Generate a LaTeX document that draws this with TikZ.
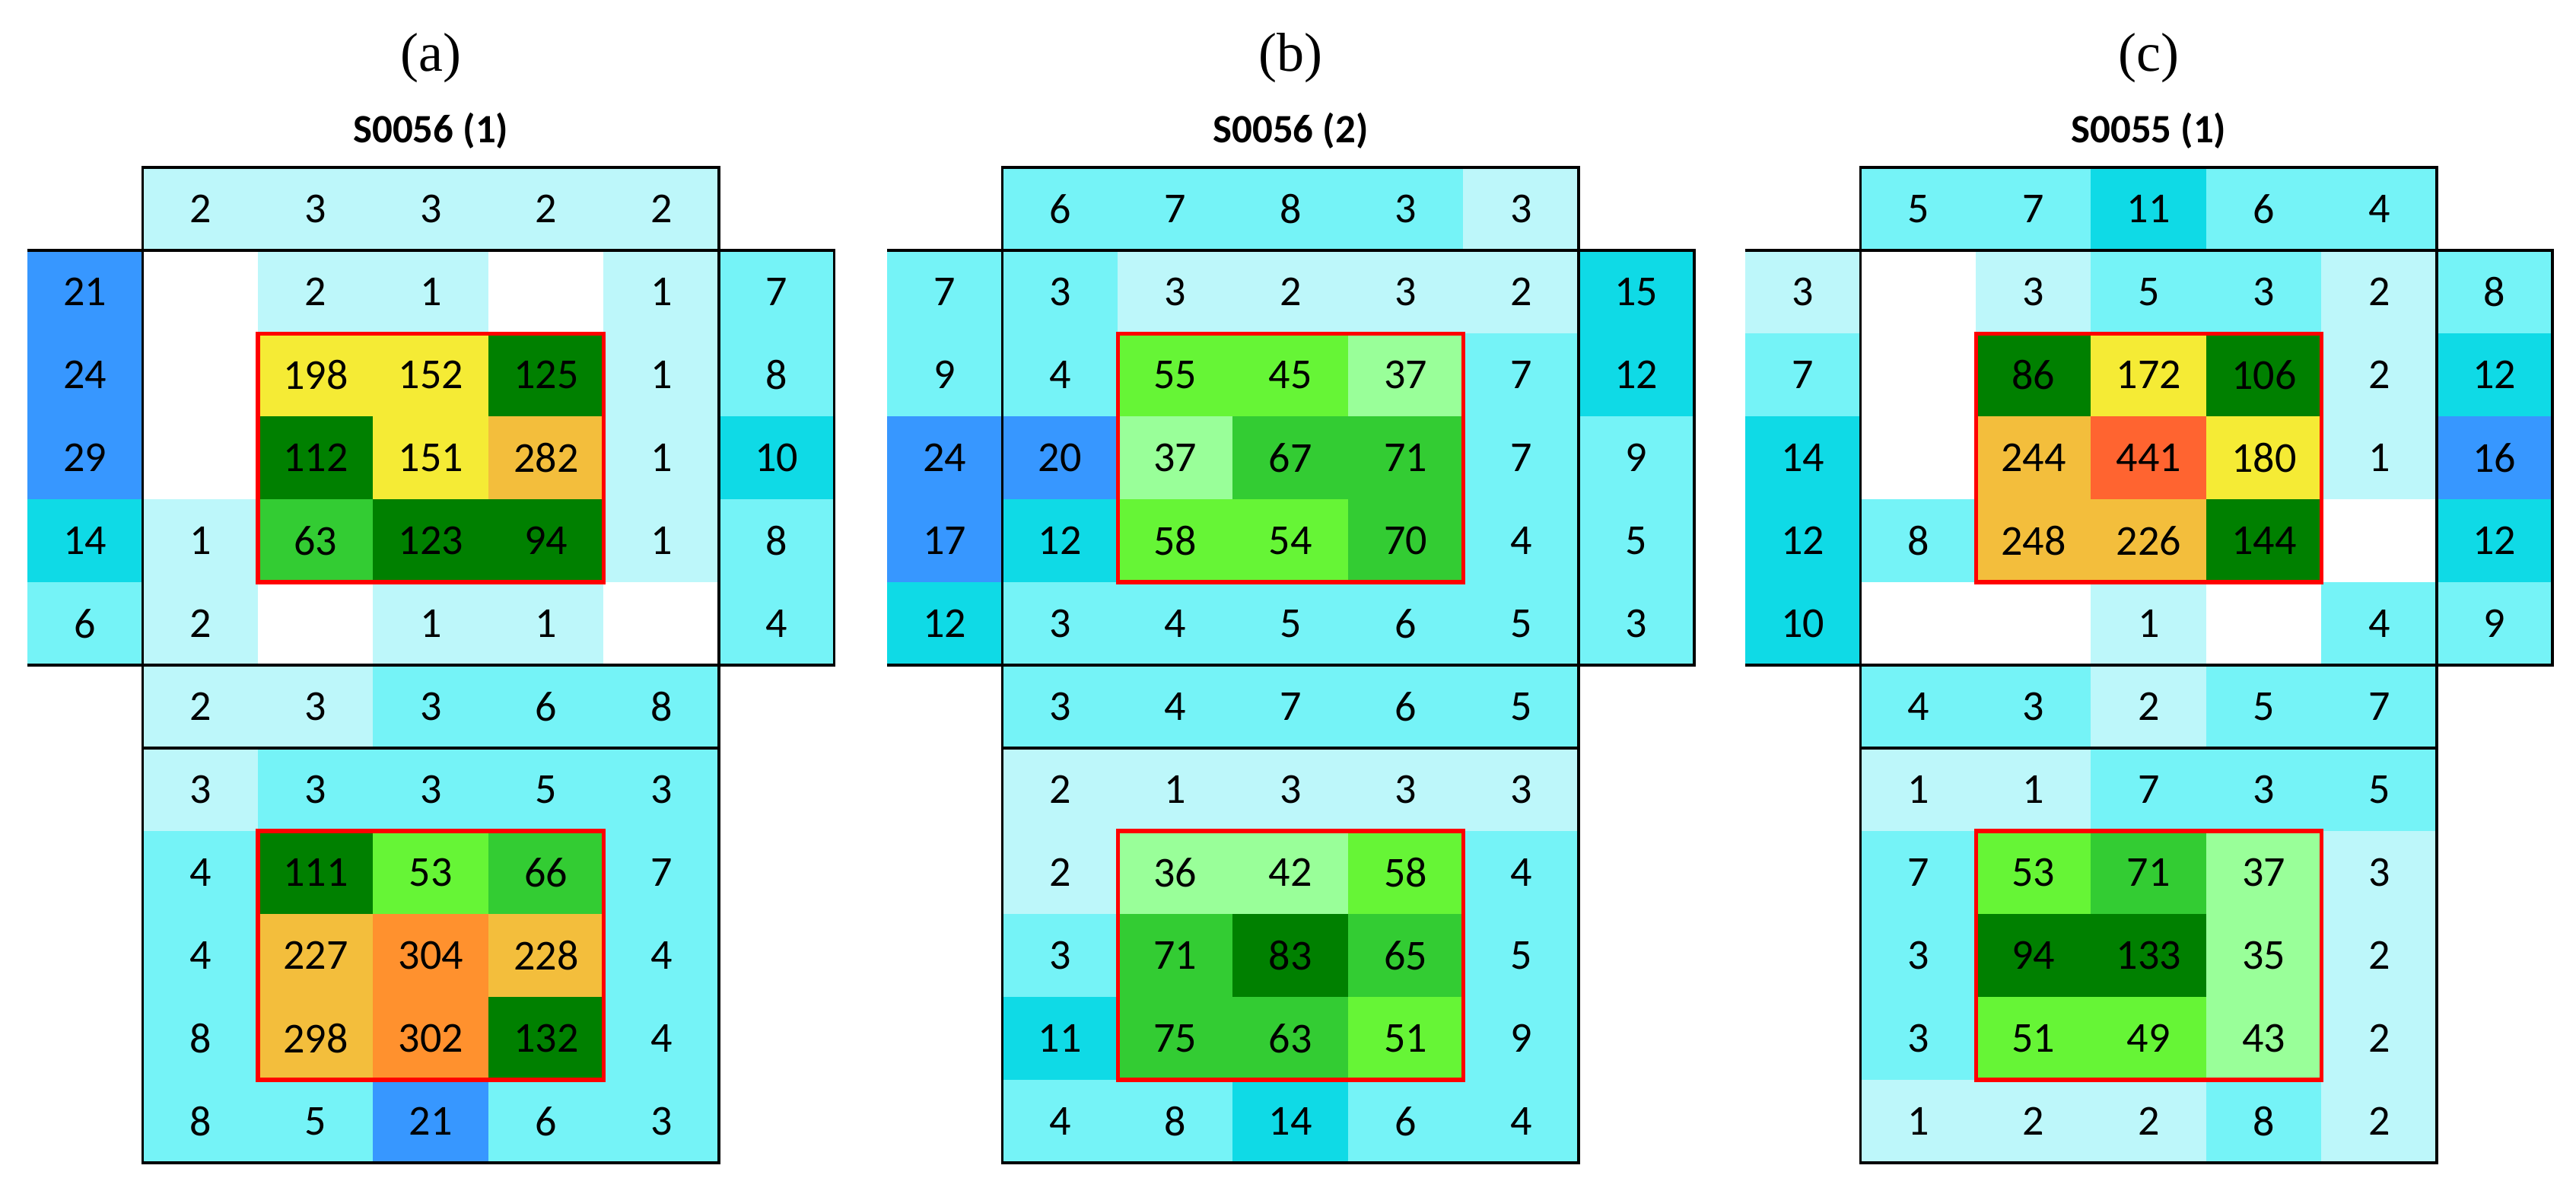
\documentclass[tikz,border=0pt]{standalone}
\usepackage{fontspec}
\setmainfont{Carlito}
\newfontfamily\ttlfont{Liberation Serif}
\definecolor{L}{HTML}{BDF7FA}
\definecolor{M}{HTML}{75F3F7}
\definecolor{D}{HTML}{0FDAE6}
\definecolor{B}{HTML}{3797FF}
\definecolor{W}{HTML}{FFFFFF}
\definecolor{G1}{HTML}{99FF99}
\definecolor{G2}{HTML}{66F536}
\definecolor{G3}{HTML}{33CC33}
\definecolor{G4}{HTML}{008000}
\definecolor{Y}{HTML}{F5EB35}
\definecolor{O1}{HTML}{F3BE3C}
\definecolor{O2}{HTML}{FF912E}
\definecolor{R}{HTML}{FF6430}
\tikzset{
  cell/.style={minimum width=71.8pt,minimum height=51.7pt,inner sep=0pt,draw=none,font=\fontsize{26.5}{28}\selectfont},
  frame/.style={draw=black,line width=1.7pt},
  redbox/.style={draw=red,line width=2.4pt},
  ttl/.style={font=\ttlfont\fontsize{34}{36}\selectfont},
  sub/.style={font=\bfseries\fontsize{25}{27}\selectfont}
}
% #1 x offset, #2 y top, #3 start col, #4 name prefix, #5 list
\newcommand\cellrow[5]{%
  \foreach \v/\c [count=\i from #3] in {#5} {%
    \node[cell,fill=\c] (#4-\i) at ({#1+(\i-0.5)*71.6},{#2+25.75}) {\v};}}
% #1 x offset, #2 prefix
\newcommand\panelframe[2]{%
  \coordinate (#2-tl) at ({#1+71.6},104);
  \coordinate (#2-tr) at ({#1+6*71.6},104);
  \coordinate (#2-ml) at (#1,155.5);
  \coordinate (#2-mr) at ({#1+7*71.6},155.5);
  \coordinate (#2-nl) at (#1,413);
  \coordinate (#2-nr) at ({#1+7*71.6},413);
  \coordinate (#2-ol) at ({#1+71.6},464.5);
  \coordinate (#2-or) at ({#1+6*71.6},464.5);
  \coordinate (#2-bl) at ({#1+71.6},722);
  \coordinate (#2-br) at ({#1+6*71.6},722);
  \draw[frame] (#2-bl) -- (#2-tl) -- (#2-tr) -- (#2-br) -- cycle;
  \draw[frame] (#2-ml) -- (#2-mr) -- (#2-nr) -- (#2-nl);
  \draw[frame] (#2-ol) -- (#2-or);
  \coordinate (#2-r1) at ({#1+2*71.6},207);
  \coordinate (#2-r2) at ({#1+5*71.6},361.5);
  \coordinate (#2-r3) at ({#1+2*71.6},516);
  \coordinate (#2-r4) at ({#1+5*71.6},670.5);
  \draw[redbox] (#2-r1) rectangle (#2-r2);
  \draw[redbox] (#2-r3) rectangle (#2-r4);
}
\begin{document}
\begin{tikzpicture}[x=1pt,y=-1pt]
\useasboundingbox[fill=white] (0,0) rectangle (1600,741);
% ---------- panel a ----------
\def\px{17}
\cellrow{\px}{104}{2}{a0}{2/L,3/L,3/L,2/L,2/L}
\cellrow{\px}{155.5}{1}{a1}{21/B,{}/W,2/L,1/L,{}/W,1/L,7/M}
\cellrow{\px}{207}{1}{a2}{24/B,{}/W,198/Y,152/Y,125/G4,1/L,8/M}
\cellrow{\px}{258.5}{1}{a3}{29/B,{}/W,112/G4,151/Y,282/O1,1/L,10/D}
\cellrow{\px}{310}{1}{a4}{14/D,1/L,63/G3,123/G4,94/G4,1/L,8/M}
\cellrow{\px}{361.5}{1}{a5}{6/M,2/L,{}/W,1/L,1/L,{}/W,4/M}
\cellrow{\px}{413}{2}{a6}{2/L,3/L,3/M,6/M,8/M}
\cellrow{\px}{464.5}{2}{a7}{3/L,3/M,3/M,5/M,3/M}
\cellrow{\px}{516}{2}{a8}{4/M,111/G4,53/G2,66/G3,7/M}
\cellrow{\px}{567.5}{2}{a9}{4/M,227/O1,304/O2,228/O1,4/M}
\cellrow{\px}{619}{2}{a10}{8/M,298/O1,302/O2,132/G4,4/M}
\cellrow{\px}{670.5}{2}{a11}{8/M,5/M,21/B,6/M,3/M}
\panelframe{\px}{fa}
\node[ttl] (ta) at ({\px+250.6},36) {(a)};
\node[sub] (sa) at ({\px+250.6},81) {S0056 (1)};
% ---------- panel b ----------
\def\px{551}
\cellrow{\px}{104}{2}{b0}{6/M,7/M,8/M,3/M,3/L}
\cellrow{\px}{155.5}{1}{b1}{7/M,3/M,3/L,2/L,3/L,2/L,15/D}
\cellrow{\px}{207}{1}{b2}{9/M,4/M,55/G2,45/G2,37/G1,7/M,12/D}
\cellrow{\px}{258.5}{1}{b3}{24/B,20/B,37/G1,67/G3,71/G3,7/M,9/M}
\cellrow{\px}{310}{1}{b4}{17/B,12/D,58/G2,54/G2,70/G3,4/M,5/M}
\cellrow{\px}{361.5}{1}{b5}{12/D,3/M,4/M,5/M,6/M,5/M,3/M}
\cellrow{\px}{413}{2}{b6}{3/M,4/M,7/M,6/M,5/M}
\cellrow{\px}{464.5}{2}{b7}{2/L,1/L,3/L,3/L,3/L}
\cellrow{\px}{516}{2}{b8}{2/L,36/G1,42/G1,58/G2,4/M}
\cellrow{\px}{567.5}{2}{b9}{3/M,71/G3,83/G4,65/G3,5/M}
\cellrow{\px}{619}{2}{b10}{11/D,75/G3,63/G3,51/G2,9/M}
\cellrow{\px}{670.5}{2}{b11}{4/M,8/M,14/D,6/M,4/M}
\panelframe{\px}{fb}
\node[ttl] (tb) at ({\px+250.6},36) {(b)};
\node[sub] (sb) at ({\px+250.6},81) {S0056 (2)};
% ---------- panel c ----------
\def\px{1084}
\cellrow{\px}{104}{2}{c0}{5/M,7/M,11/D,6/M,4/M}
\cellrow{\px}{155.5}{1}{c1}{3/L,{}/W,3/L,5/M,3/M,2/L,8/M}
\cellrow{\px}{207}{1}{c2}{7/M,{}/W,86/G4,172/Y,106/G4,2/L,12/D}
\cellrow{\px}{258.5}{1}{c3}{14/D,{}/W,244/O1,441/R,180/Y,1/L,16/B}
\cellrow{\px}{310}{1}{c4}{12/D,8/M,248/O1,226/O1,144/G4,{}/W,12/D}
\cellrow{\px}{361.5}{1}{c5}{10/D,{}/W,{}/W,1/L,{}/W,4/M,9/M}
\cellrow{\px}{413}{2}{c6}{4/M,3/M,2/L,5/M,7/M}
\cellrow{\px}{464.5}{2}{c7}{1/L,1/L,7/M,3/M,5/M}
\cellrow{\px}{516}{2}{c8}{7/M,53/G2,71/G3,37/G1,3/L}
\cellrow{\px}{567.5}{2}{c9}{3/M,94/G4,133/G4,35/G1,2/L}
\cellrow{\px}{619}{2}{c10}{3/M,51/G2,49/G2,43/G1,2/L}
\cellrow{\px}{670.5}{2}{c11}{1/L,2/L,2/L,8/M,2/L}
\panelframe{\px}{fc}
\node[ttl] (tc) at ({\px+250.6},36) {(c)};
\node[sub] (sc) at ({\px+250.6},81) {S0055 (1)};
\end{tikzpicture}
\end{document}
